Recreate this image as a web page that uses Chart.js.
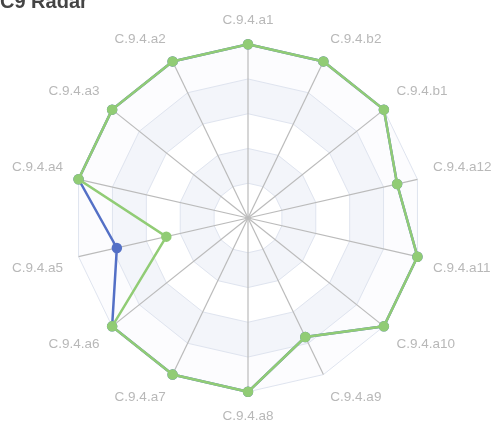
<!DOCTYPE html>
<html>
<head>
<meta charset="utf-8">
<script src="https://cdn.jsdelivr.net/npm/chart.js@4.4.1/dist/chart.umd.min.js"></script>
<style>
  html, body { margin: 0; padding: 0; background: #fff; overflow: hidden; }
  #wrap { position: relative; width: 497px; height: 421px; overflow: hidden; }
  #title { position: absolute; left: 0; top: -9px; font: bold 20px/20px "Liberation Sans", Arial, sans-serif; color: #444; z-index: 2; }
  canvas { position: absolute; left: 0; top: 0; }
</style>
</head>
<body>
<div id="wrap">
  <div id="title">C9 Radar</div>
  <canvas id="c" width="497" height="425"></canvas>
</div>
<script>
const categories = ["C.9.4.a1","C.9.4.b2","C.9.4.b1","C.9.4.a12","C.9.4.a11","C.9.4.a10","C.9.4.a9","C.9.4.a8","C.9.4.a7","C.9.4.a6","C.9.4.a5","C.9.4.a4","C.9.4.a3","C.9.4.a2"];
const seriesBlue  = [5, 5, 5, 4.4, 5, 5, 3.8, 5, 5, 5, 3.87, 5, 5, 5];
const seriesGreen = [5, 5, 5, 4.4, 5, 5, 3.8, 5, 5, 5, 2.41, 5, 5, 5];
const ringTicks = [0, 1, 2, 3, 4, 5];
const bandColors = ["#ffffff", "#f3f5fa", "#ffffff", "#f3f5fa", "#fcfcfe"];

const bandsPlugin = {
  id: 'bands',
  beforeDraw(chart) {
    const s = chart.scales.r;
    const ctx = chart.ctx;
    const n = categories.length;
    for (let b = ringTicks.length - 2; b >= 0; b--) {
      const d = s.getDistanceFromCenterForValue(ringTicks[b + 1]);
      ctx.save();
      ctx.beginPath();
      for (let i = 0; i < n; i++) {
        const p = s.getPointPosition(i, d);
        if (i === 0) ctx.moveTo(p.x, p.y); else ctx.lineTo(p.x, p.y);
      }
      ctx.closePath();
      ctx.fillStyle = bandColors[b];
      ctx.fill();
      ctx.restore();
    }
  }
};

new Chart(document.getElementById('c'), {
  type: 'radar',
  data: {
    labels: categories,
    datasets: [
      { label: 'B', data: seriesGreen, borderColor: '#91cc75', backgroundColor: '#91cc75',
        pointBackgroundColor: '#91cc75', pointBorderColor: '#91cc75', borderWidth: 2.5, pointRadius: 4, fill: false, order: 0 },
      { label: 'A', data: seriesBlue, borderColor: '#5470c6', backgroundColor: '#5470c6',
        pointBackgroundColor: '#5470c6', pointBorderColor: '#5470c6', borderWidth: 2.5, pointRadius: 4, fill: false, order: 1 }
    ]
  },
  options: {
    responsive: false,
    animation: false,
    layout: { padding: { top: 12, bottom: 0, left: 7, right: 0 } },
    plugins: { legend: { display: false }, tooltip: { enabled: false } },
    elements: { line: { tension: 0 } },
    scales: {
      r: {
        min: 0, max: 5,
        ticks: { display: false, stepSize: 1 },
        grid: { color: '#dfe4ef', lineWidth: 1 },
        angleLines: { color: '#bbbbbb', lineWidth: 1.2 },
        pointLabels: { color: '#b8b8b8', padding: 16, font: { family: 'Liberation Sans', size: 13.5 } }
      }
    }
  },
  plugins: [bandsPlugin]
});
</script>
</body>
</html>
